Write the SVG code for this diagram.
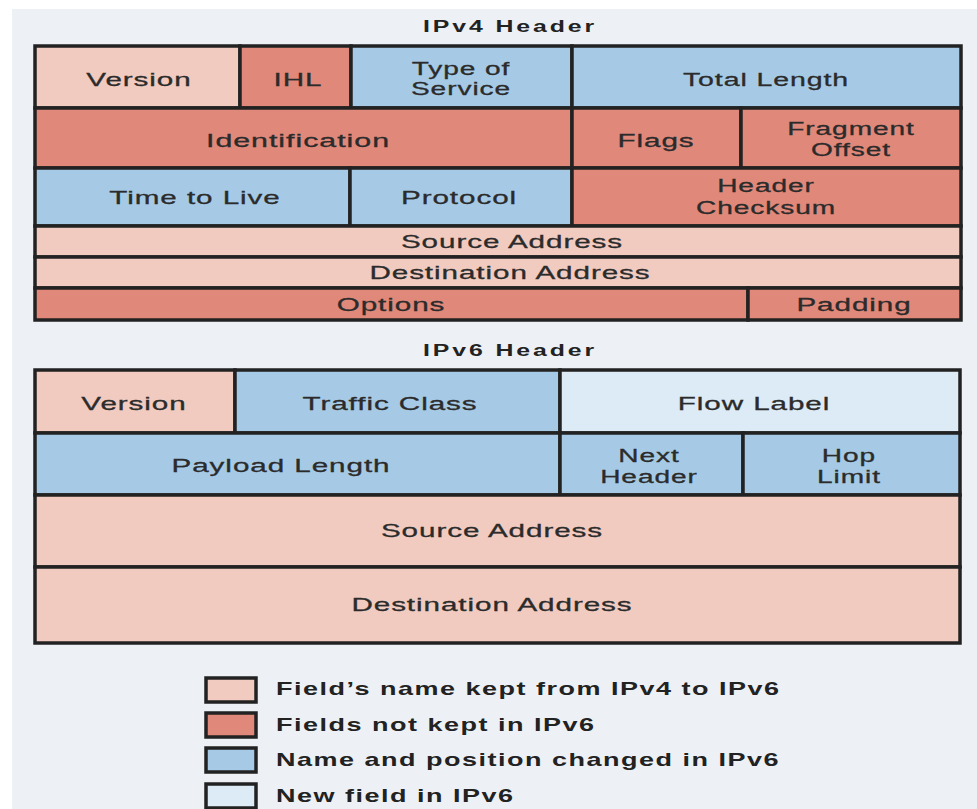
<svg xmlns="http://www.w3.org/2000/svg" width="977" height="809" viewBox="0 0 977 809">
<style>
.bg{fill:#edf1f5}
.c{stroke:#222;stroke-width:3.5}
.pk{fill:#f2cbc0}
.sa{fill:#e0887a}
.bl{fill:#a6cae6}
.lb{fill:#dcebf5}
.t{font-family:"Liberation Sans",Arial,sans-serif;font-size:19px;fill:#2b2b2b;stroke:#2b2b2b;stroke-width:0.3;text-anchor:middle;letter-spacing:0.6px}
.t2{font-family:"Liberation Sans",Arial,sans-serif;font-size:18px;fill:#2b2b2b;stroke:#2b2b2b;stroke-width:0.3;text-anchor:middle;letter-spacing:0.6px}
.h{font-family:"Liberation Sans",Arial,sans-serif;font-size:17px;font-weight:bold;fill:#222;text-anchor:middle;letter-spacing:2px}
.lg{font-family:"Liberation Sans",Arial,sans-serif;font-size:18px;font-weight:bold;fill:#222;letter-spacing:1px}
</style>
<rect x="0" y="0" width="977" height="809" fill="#ffffff"/>
<rect class="bg" x="12" y="9" width="965" height="800"/>

<g id="ipv4-title"><text class="h" transform="translate(510,32) scale(1.46,1)">IPv4 Header</text></g>

<g id="ipv4">
<g id="v4-version"><rect class="c pk" x="35" y="46" width="205" height="62"/><text class="t" transform="translate(139,86) scale(1.56,1)">Version</text></g>
<g id="v4-ihl"><rect class="c sa" x="240" y="46" width="111" height="62"/><text class="t" transform="translate(298,86) scale(1.56,1)">IHL</text></g>
<g id="v4-tos"><rect class="c bl" x="351" y="46" width="221" height="62"/><text class="t2" transform="translate(461,75) scale(1.56,1)">Type of</text><text class="t2" transform="translate(461,95) scale(1.56,1)">Service</text></g>
<g id="v4-total"><rect class="c bl" x="572" y="46" width="389" height="62"/><text class="t" transform="translate(766,86) scale(1.5,1)">Total Length</text></g>

<g id="v4-id"><rect class="c sa" x="35" y="108" width="537" height="60"/><text class="t" transform="translate(298,147) scale(1.6,1)">Identification</text></g>
<g id="v4-flags"><rect class="c sa" x="572" y="108" width="169" height="60"/><text class="t" transform="translate(656,147) scale(1.56,1)">Flags</text></g>
<g id="v4-frag"><rect class="c sa" x="741" y="108" width="220" height="60"/><text class="t2" transform="translate(851,135) scale(1.56,1)">Fragment</text><text class="t2" transform="translate(851,156) scale(1.56,1)">Offset</text></g>

<g id="v4-ttl"><rect class="c bl" x="35" y="168" width="315" height="58"/><text class="t" transform="translate(195,204) scale(1.56,1)">Time to Live</text></g>
<g id="v4-proto"><rect class="c bl" x="350" y="168" width="222" height="58"/><text class="t" transform="translate(459,204) scale(1.56,1)">Protocol</text></g>
<g id="v4-cksum"><rect class="c sa" x="572" y="168" width="389" height="58"/><text class="t2" transform="translate(766,192) scale(1.56,1)">Header</text><text class="t2" transform="translate(766,214) scale(1.56,1)">Checksum</text></g>

<g id="v4-src"><rect class="c pk" x="35" y="226" width="926" height="31"/><text class="t" transform="translate(512,248) scale(1.56,1)">Source Address</text></g>
<g id="v4-dst"><rect class="c pk" x="35" y="257" width="926" height="31"/><text class="t" transform="translate(510,279) scale(1.56,1)">Destination Address</text></g>

<g id="v4-options"><rect class="c sa" x="35" y="288" width="713" height="32"/><text class="t" transform="translate(391,311) scale(1.56,1)">Options</text></g>
<g id="v4-padding"><rect class="c sa" x="748" y="288" width="213" height="32"/><text class="t" transform="translate(854,311) scale(1.56,1)">Padding</text></g>
</g>

<g id="ipv6-title"><text class="h" transform="translate(510,356) scale(1.46,1)">IPv6 Header</text></g>

<g id="ipv6">
<g id="v6-version"><rect class="c pk" x="35" y="370" width="200" height="63"/><text class="t" transform="translate(134,410) scale(1.56,1)">Version</text></g>
<g id="v6-traffic"><rect class="c bl" x="235" y="370" width="325" height="63"/><text class="t" transform="translate(390,410) scale(1.56,1)">Traffic Class</text></g>
<g id="v6-flow"><rect class="c lb" x="560" y="370" width="400" height="63"/><text class="t" transform="translate(754,410) scale(1.56,1)">Flow Label</text></g>

<g id="v6-payload"><rect class="c bl" x="35" y="433" width="525" height="62"/><text class="t" transform="translate(281,472) scale(1.56,1)">Payload Length</text></g>
<g id="v6-next"><rect class="c bl" x="560" y="433" width="183" height="62"/><text class="t2" transform="translate(649,462) scale(1.56,1)">Next</text><text class="t2" transform="translate(649,483) scale(1.56,1)">Header</text></g>
<g id="v6-hop"><rect class="c bl" x="743" y="433" width="217" height="62"/><text class="t2" transform="translate(849,462) scale(1.56,1)">Hop</text><text class="t2" transform="translate(849,483) scale(1.56,1)">Limit</text></g>

<g id="v6-src"><rect class="c pk" x="35" y="495" width="925" height="72"/><text class="t" transform="translate(492,537) scale(1.56,1)">Source Address</text></g>
<g id="v6-dst"><rect class="c pk" x="35" y="567" width="925" height="76"/><text class="t" transform="translate(492,611) scale(1.56,1)">Destination Address</text></g>
</g>

<g id="legend">
<g id="lg-kept"><rect class="c pk" x="206" y="678" width="50" height="24" stroke-width="3"/><text class="lg" transform="translate(276,695) scale(1.5,1)">Field’s name kept from IPv4 to IPv6</text></g>
<g id="lg-notkept"><rect class="c sa" x="206" y="713" width="50" height="24" stroke-width="3"/><text class="lg" transform="translate(276,731) scale(1.5,1)">Fields not kept in IPv6</text></g>
<g id="lg-changed"><rect class="c bl" x="206" y="748" width="50" height="24" stroke-width="3"/><text class="lg" transform="translate(276,766) scale(1.5,1)">Name and position changed in IPv6</text></g>
<g id="lg-new"><rect class="c lb" x="206" y="784" width="50" height="24" stroke-width="3"/><text class="lg" transform="translate(276,802) scale(1.5,1)">New field in IPv6</text></g>
</g>
</svg>
